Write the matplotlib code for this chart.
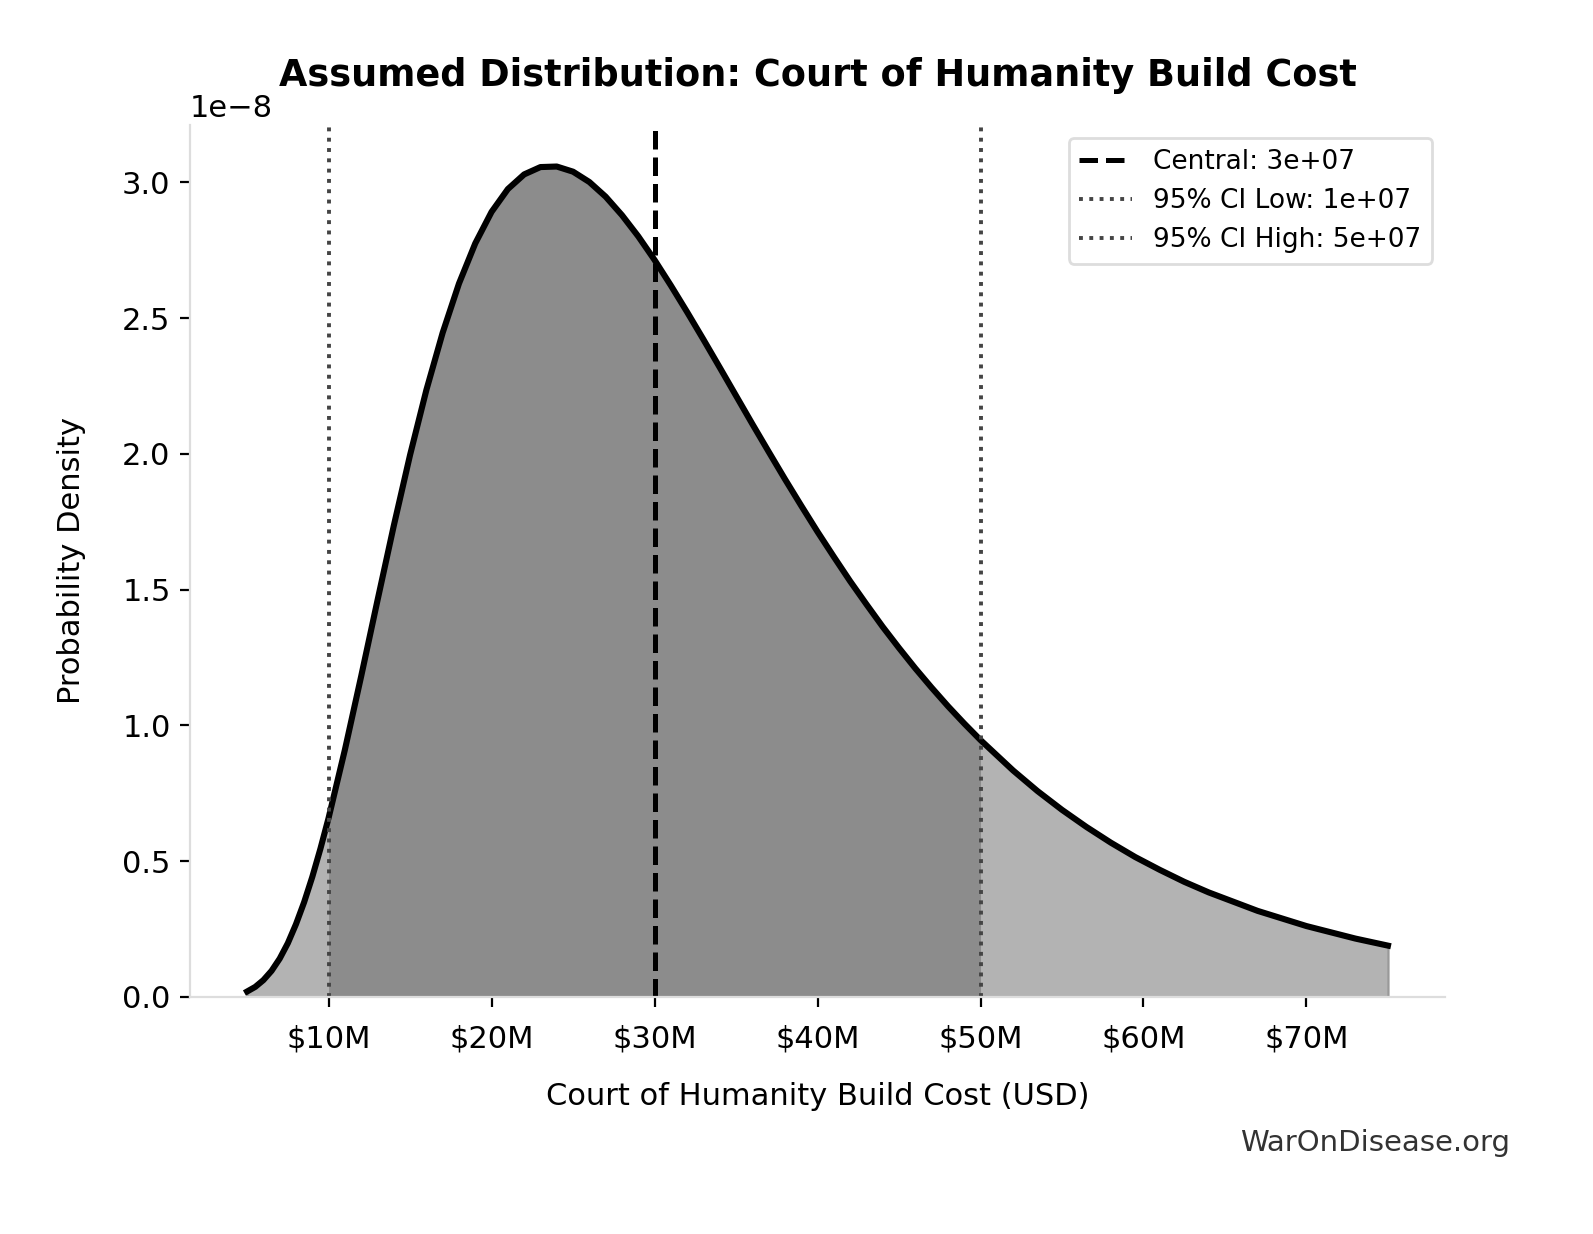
import matplotlib
matplotlib.use("Agg")
import matplotlib.pyplot as plt
import matplotlib.ticker as mticker
import numpy as np

# build cost in $M and density (units of 1e-8 per $)
cost_m = [5, 5.5, 6, 6.5, 7, 7.5, 8, 8.5, 9, 9.5, 10, 11, 12, 13, 14, 15, 16, 17, 18, 19,
          20, 21, 22, 23, 24, 25, 26, 27, 28, 29, 30, 31, 32, 33, 34, 35, 36, 37, 38, 39,
          40, 41, 42, 43, 44, 45, 46, 47, 48, 49, 50, 52, 53.5, 55, 56.5, 58, 59.5, 61,
          62.5, 64, 67, 70, 73, 75]
density = [0.020, 0.037, 0.062, 0.096, 0.141, 0.198, 0.268, 0.349, 0.442, 0.546, 0.659,
           0.910, 1.181, 1.460, 1.735, 1.996, 2.235, 2.446, 2.627, 2.775, 2.891, 2.975,
           3.029, 3.056, 3.058, 3.039, 3.001, 2.947, 2.879, 2.801, 2.714, 2.620, 2.522,
           2.421, 2.318, 2.214, 2.110, 2.008, 1.907, 1.809, 1.713, 1.621, 1.531, 1.446,
           1.363, 1.285, 1.210, 1.139, 1.071, 1.007, 0.946, 0.834, 0.758, 0.689, 0.626,
           0.568, 0.515, 0.468, 0.424, 0.385, 0.317, 0.261, 0.215, 0.189]

central = 3e7
ci_low = 1e7
ci_high = 5e7

x = np.array(cost_m) * 1e6
y = np.array(density) * 1e-8

fig = plt.figure(figsize=(7.965, 6.17), dpi=200)
ax = fig.add_axes([0.1193, 0.1921, 0.7878, 0.7066])

ax.fill_between(x, y, 0, color="#b3b3b3", edgecolor="#999999", linewidth=0.8)
mask = (x >= ci_low) & (x <= ci_high)
ax.fill_between(x[mask], y[mask], 0, color="#8c8c8c", linewidth=0)
ax.plot(x, y, color="black", linewidth=2.2, solid_joinstyle="round")

ax.axvline(central, color="black", linestyle="--", linewidth=1.8, label=f"Central: {central:.0e}")
ax.axvline(ci_low, color="#444444", linestyle=":", linewidth=1.4, label=f"95% CI Low: {ci_low:.0e}")
ax.axvline(ci_high, color="#444444", linestyle=":", linewidth=1.4, label=f"95% CI High: {ci_high:.0e}")

ax.set_ylim(bottom=0)
ax.xaxis.set_major_formatter(mticker.FuncFormatter(lambda v, p: f"${v/1e6:.0f}M"))
ax.set_xticks([1e7, 2e7, 3e7, 4e7, 5e7, 6e7, 7e7])

ax.set_title("Assumed Distribution: Court of Humanity Build Cost", fontsize=13.2,
             fontweight="bold", pad=14)
ax.set_xlabel("Court of Humanity Build Cost (USD)", fontsize=11, labelpad=10)
ax.set_ylabel("Probability Density", fontsize=11, labelpad=13)

for side in ["top", "right"]:
    ax.spines[side].set_visible(False)
for side in ["left", "bottom"]:
    ax.spines[side].set_color("#dddddd")
ax.tick_params(axis="both", labelsize=11)
ax.tick_params(axis="x", pad=6.5)
ax.yaxis.get_offset_text().set_fontsize(11)

leg = ax.legend(loc="upper right", fontsize=9.5, framealpha=1)
leg.get_frame().set_edgecolor("#dddddd")

fig.text(0.948, 0.074, "WarOnDisease.org", ha="right", va="center", fontsize=10.5, color="#333333")

fig.savefig("out.png", dpi=200)
